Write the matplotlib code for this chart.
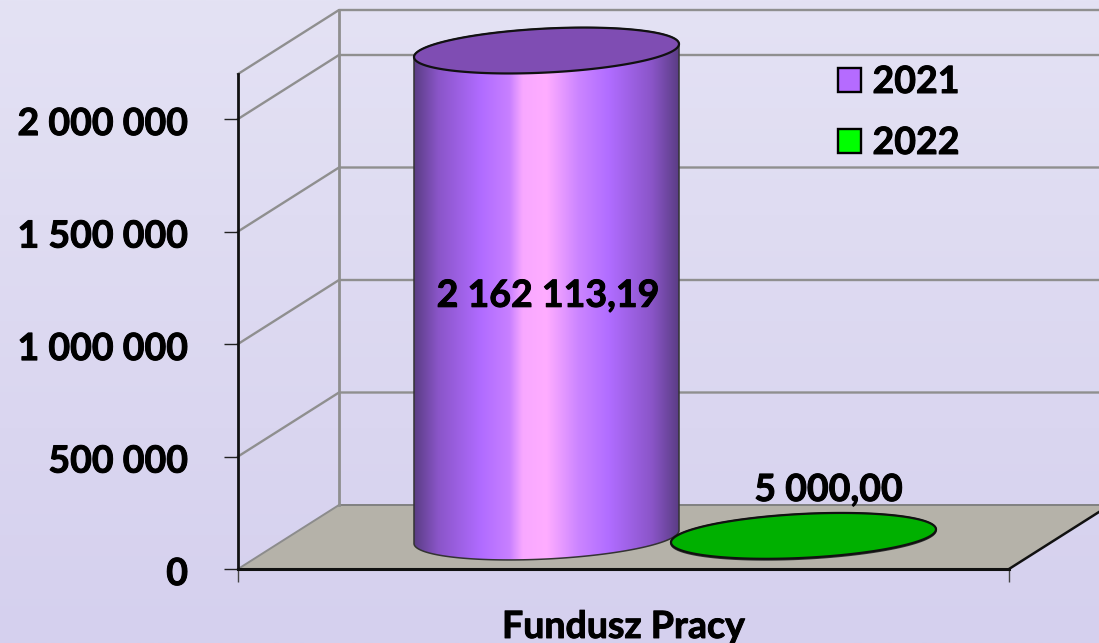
import numpy as np
import matplotlib
matplotlib.use('Agg')
import matplotlib.pyplot as plt
import matplotlib.patheffects as pe
from matplotlib.colors import LinearSegmentedColormap
from matplotlib.patches import Patch, Polygon
from matplotlib.transforms import ScaledTranslation

# data
category = 'Fundusz Pracy'
series_names = ['2021', '2022']
series_values = [2162113.19, 5000.00]
y_ticks = [0, 500000, 1000000, 1500000, 2000000]
y_labels = ['0', '500 000', '1 000 000', '1 500 000', '2 000 000']

plt.rcParams['font.family'] = ['Lato', 'DejaVu Sans']
plt.rcParams['font.weight'] = 'bold'
plt.rcParams['axes.labelweight'] = 'bold'

W, H = 1099, 643
fig = plt.figure(figsize=(W / 100, H / 100), dpi=100)

# tlo - gradient
bg = fig.add_axes([0, 0, 1, 1], zorder=0)
bg_cmap = LinearSegmentedColormap.from_list('bg', ['#e4e2f4', '#d5d0ee'])
bg.imshow(np.linspace(0, 1, 256).reshape(-1, 1), cmap=bg_cmap, aspect='auto')
bg.axis('off')

# os glowna = przednia plaszczyzna wykresu
left, right, bottom, top = 238, 1009, 569, 74
ax = fig.add_axes([left / W, 1 - bottom / H, (right - left) / W, (bottom - top) / H], zorder=1)
ax.patch.set_alpha(0)
ax.set_xlim(0, 1)
ax.set_ylim(0, 2200000)

sx = 1 / (right - left)
sy = 2200000 / (bottom - top)
dx = 101 * sx
dy = 64 * sy

# podloga
ax.add_patch(Polygon([[0, 0], [1, 0], [1 + dx, dy], [dx, dy]], closed=True, fc='#b5b2a9',
                     ec='none', clip_on=False, zorder=1))
ax.plot([dx, 1 + dx], [dy, dy], color='#808080', lw=1.4, clip_on=False, zorder=1.1)
ax.plot([0, dx], [0, dy], color='#8c8c8c', lw=1.4, clip_on=False, zorder=1.1)
ax.plot([1, 1 + dx], [0, dy], color='#111111', lw=1.8, clip_on=False, zorder=1.1)

# siatka
for v in y_ticks[1:] + [2200000]:
    ax.plot([0, dx, 1 + dx], [v, v + dy, v + dy], color='#8f8f8f', lw=1.7, clip_on=False, zorder=1.1)
ax.plot([dx, dx], [dy, 2200000 + dy], color='#8f8f8f', lw=2.0, clip_on=False, zorder=1.1)

# walce
side_cmap = LinearSegmentedColormap.from_list('side', [
    (0.00, '#5b3d85'), (0.09, '#8a55c8'), (0.25, '#b06bff'), (0.36, '#c880ff'), (0.41, '#f8a8ff'),
    (0.50, '#ffadff'), (0.62, '#cc85ff'), (0.74, '#b06cff'), (0.90, '#8a55c8'), (1.00, '#5b3d85')])
side_colors = ['#b56bff', '#00ff00']
top_colors = ['#7f4db3', '#00b000']

a = 132.5 * sx
b = 22 * sy
k = 6.5 * sy


def ellipse(cx, cy, t):
    return cx + a * np.cos(t), cy + b * np.sin(t) + k * np.cos(t)


for i, value in enumerate(series_values):
    cx = (i + 1) / 3 + dx / 2 + 1 * sx
    y0 = dy / 2
    y1 = y0 + value
    z = 3 + i
    tb = np.linspace(np.pi, 2 * np.pi, 100)
    tt = np.linspace(0, np.pi, 100)
    xb, yb = ellipse(cx, y0, tb)
    xt, yt = ellipse(cx, y1, tt)
    body = Polygon(np.column_stack([np.r_[xb, xt], np.r_[yb, yt]]), closed=True, fc='none',
                   ec='#333333', lw=1.1, clip_on=False, zorder=z + 0.2)
    ax.add_patch(body)
    im = ax.imshow(np.linspace(0, 1, 256).reshape(1, -1), cmap=side_cmap, aspect='auto',
                   extent=[cx - a, cx + a, y0 - b - k, y1 + b + k], zorder=z, interpolation='bilinear')
    im.set_clip_box(fig.bbox)
    im.set_clip_path(body)
    ta = np.linspace(0, 2 * np.pi, 200)
    xe, ye = ellipse(cx, y1, ta)
    ax.add_patch(Polygon(np.column_stack([xe, ye]), closed=True, fc=top_colors[i], ec='#111111',
                         lw=1.6, clip_on=False, zorder=z + 0.4))

ax.set_xlim(0, 1)
ax.set_ylim(0, 2200000)

# etykiety wartosci
fs = 27
heavy = [pe.withStroke(linewidth=0.7, foreground='black')]
for i, value in enumerate(series_values):
    cx = (i + 1) / 3 + dx / 2 + 1 * sx
    txt = f'{value:,.2f}'.replace(',', ' ').replace('.', ',')
    if value > 1000000:
        ax.annotate(txt, (cx, dy / 2 + value / 2), xytext=(1, -1.5), textcoords='offset points',
                    ha='center', va='center', fontsize=fs, color='black', zorder=10,
                    annotation_clip=False, path_effects=heavy)
    else:
        ax.annotate(txt, (cx, dy / 2 + value), xytext=(18, 33), textcoords='offset points',
                    ha='center', va='center', fontsize=fs, color='black', zorder=10,
                    annotation_clip=False, path_effects=heavy)

# osie
for s in ['top', 'right']:
    ax.spines[s].set_visible(False)
ax.spines['left'].set_color('#111111')
ax.spines['left'].set_linewidth(2.0)
ax.spines['bottom'].set_color('#111111')
ax.spines['bottom'].set_linewidth(2.2)
ax.spines['left'].set_zorder(2)
ax.spines['bottom'].set_zorder(2)
ax.set_yticks(y_ticks)
ax.set_yticklabels(y_labels, fontsize=fs, color='black', path_effects=heavy)
ax.set_xticks([0, 1])
ax.set_xticklabels([])
ax.tick_params(axis='y', length=10, width=1, color='#222222', pad=26)
ax.tick_params(axis='x', length=9.5, width=1, color='#444444')
for lab in ax.get_yticklabels():
    lab.set_transform(lab.get_transform() + ScaledTranslation(0, -1.5 / 72, fig.dpi_scale_trans))
ax.set_xlabel(category, fontsize=fs, color='black', labelpad=16.5, path_effects=heavy)

# legenda
handles = [Patch(fc=side_colors[0], ec='black', lw=1.7), Patch(fc=side_colors[1], ec='black', lw=1.7)]
leg = ax.legend(handles, series_names, loc='center left',
                bbox_to_anchor=((838 - left) / (right - left), (bottom - 112.5) / (bottom - top)),
                frameon=False, fontsize=fs, handlelength=0.62, handleheight=0.62, handletextpad=0.3,
                labelspacing=0.72, borderpad=0, borderaxespad=0)
leg.set_zorder(11)
for t in leg.get_texts():
    t.set_path_effects(heavy)

fig.savefig('out.png', dpi=100)
